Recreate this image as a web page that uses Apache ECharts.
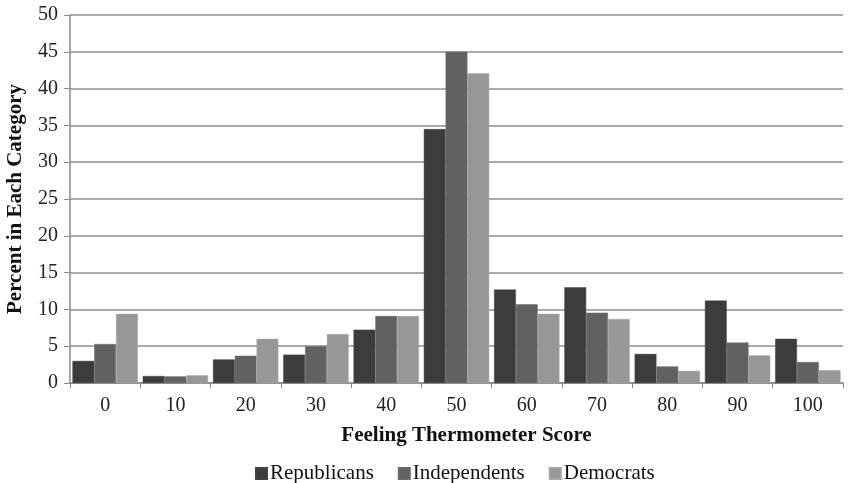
<!DOCTYPE html>
<html><head><meta charset="utf-8">
<script src="https://cdn.jsdelivr.net/npm/echarts@6/dist/echarts.min.js"></script>
<style>html,body{margin:0;padding:0;background:#fff}#c{width:856px;height:483px}</style>
</head><body><div id="c"></div>
<script>
const categories = ['0','10','20','30','40','50','60','70','80','90','100'];
const republicans = [3.0, 0.95, 3.2, 3.85, 7.25, 34.5, 12.7, 13.0, 3.95, 11.2, 6.0];
const independents = [5.3, 0.9, 3.7, 5.0, 9.1, 45.0, 10.7, 9.55, 2.25, 5.5, 2.85];
const democrats = [9.4, 1.05, 6.0, 6.65, 9.1, 42.1, 9.4, 8.7, 1.65, 3.75, 1.75];
const seriesNames = ['Republicans','Independents','Democrats'];
const colors = ['#3c3c3c','#616161','#979797'];
const font = '"Liberation Serif", "DejaVu Serif", serif';
const chart = echarts.init(document.getElementById('c'));
chart.setOption({
  animation:false,
  textStyle:{fontFamily:font},
  grid:{left:70,right:13,top:15,bottom:100,containLabel:false,outerBoundsMode:'none'},
  legend:{top:458,left:250,itemWidth:11,itemHeight:11,itemGap:24,icon:'rect',
    textStyle:{fontFamily:font,fontSize:21,color:'#111',padding:[0,0,0,-2]}},
  xAxis:{type:'category',data:categories,
    name:'Feeling Thermometer Score',nameLocation:'middle',nameGap:42,
    nameTextStyle:{fontFamily:font,fontWeight:'bold',fontSize:21,color:'#111',padding:[0,0,0,20]},
    axisLine:{lineStyle:{color:'#8a8a8a',width:1.5}},
    axisTick:{show:true,length:5,lineStyle:{color:'#8a8a8a'}},
    axisLabel:{fontFamily:font,fontSize:20,color:'#222',margin:13}},
  yAxis:{type:'value',min:0,max:50,interval:5,
    name:'Percent in Each Category',nameLocation:'middle',nameGap:44,
    nameTextStyle:{fontFamily:font,fontWeight:'bold',fontSize:21,color:'#111'},
    axisLine:{show:true,lineStyle:{color:'#8a8a8a',width:1.5}},
    axisTick:{show:true,length:6,lineStyle:{color:'#8a8a8a'}},
    axisLabel:{fontFamily:font,fontSize:20,color:'#222',margin:12},
    splitLine:{lineStyle:{color:'#8f8f8f',width:1.5}}},
  series:[republicans,independents,democrats].map((d,i)=>({
    name:seriesNames[i],type:'bar',data:d,barGap:'0%',barCategoryGap:'7%',
    itemStyle:{color:colors[i],borderColor:echarts.color.lift(colors[i],-0.1),borderWidth:0.5}
  }))
});
</script></body></html>
